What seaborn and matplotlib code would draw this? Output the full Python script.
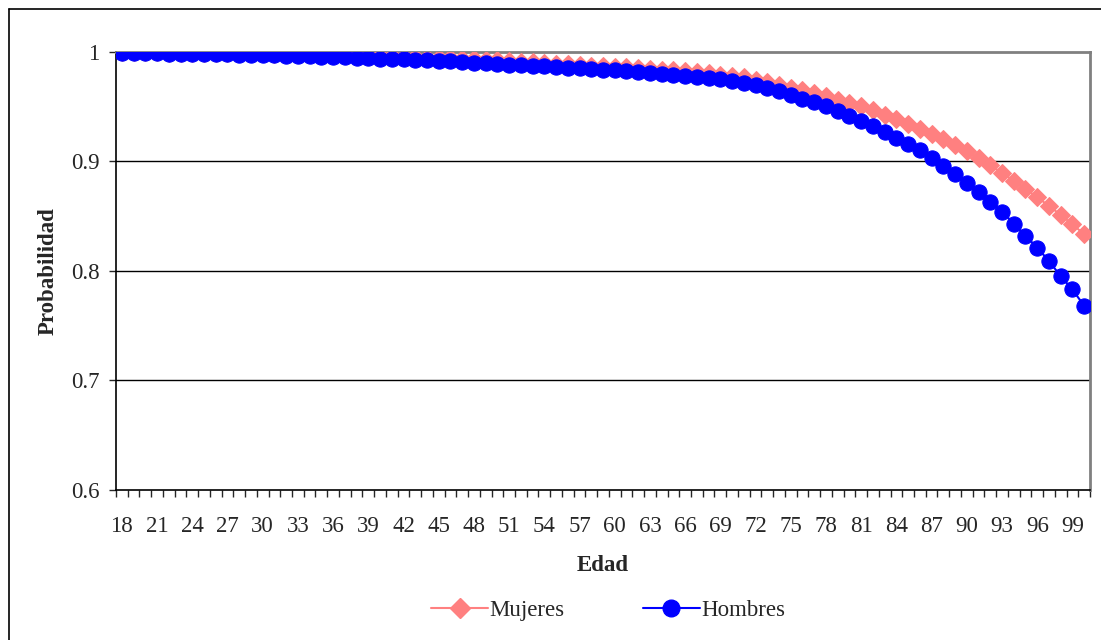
import numpy as np
import pandas as pd
import matplotlib
matplotlib.use("Agg")
import matplotlib.pyplot as plt
from matplotlib.lines import Line2D
from matplotlib.ticker import FuncFormatter
import seaborn as sns

# Probabilidad por edad
edades = list(range(18, 101))

hombres = [
    0.9985, 0.9984, 0.9983, 0.9982, 0.9981, 0.9980, 0.9979, 0.9977, 0.9975, 0.9973,  # 18-27
    0.9971, 0.9969, 0.9967, 0.9965, 0.9962, 0.9959, 0.9956, 0.9953, 0.9950, 0.9947,  # 28-37
    0.9943, 0.9940, 0.9936, 0.9932, 0.9928, 0.9924, 0.9920, 0.9915, 0.9910, 0.9905,  # 38-47
    0.9899, 0.9892, 0.9884, 0.9879, 0.9874, 0.9869, 0.9864, 0.9859, 0.9853, 0.9847,  # 48-57
    0.9841, 0.9835, 0.9828, 0.9821, 0.9813, 0.9805, 0.9796, 0.9787, 0.9777, 0.9767,  # 58-67
    0.9757, 0.9746, 0.9734, 0.9714, 0.9692, 0.9667, 0.9636, 0.9606, 0.9570, 0.9536,  # 68-77
    0.9500, 0.9460, 0.9415, 0.9370, 0.9320, 0.9270, 0.9210, 0.9160, 0.9100, 0.9030,  # 78-87
    0.8960, 0.8880, 0.8800, 0.8720, 0.8630, 0.8540, 0.8430, 0.8320, 0.8210, 0.8090,  # 88-97
    0.7950, 0.7830, 0.7680,                                                          # 98-100
]

mujeres = [
    0.9992, 0.9992, 0.9991, 0.9991, 0.9990, 0.9990, 0.9989, 0.9988, 0.9987, 0.9986,  # 18-27
    0.9985, 0.9984, 0.9983, 0.9981, 0.9979, 0.9977, 0.9975, 0.9973, 0.9971, 0.9968,  # 28-37
    0.9965, 0.9962, 0.9959, 0.9956, 0.9953, 0.9949, 0.9945, 0.9941, 0.9937, 0.9933,  # 38-47
    0.9928, 0.9923, 0.9918, 0.9913, 0.9908, 0.9902, 0.9896, 0.9890, 0.9884, 0.9878,  # 48-57
    0.9871, 0.9866, 0.9862, 0.9856, 0.9849, 0.9842, 0.9835, 0.9827, 0.9819, 0.9810,  # 58-67
    0.9800, 0.9790, 0.9778, 0.9764, 0.9742, 0.9720, 0.9698, 0.9670, 0.9645, 0.9620,  # 68-77
    0.9590, 0.9560, 0.9530, 0.9500, 0.9464, 0.9425, 0.9380, 0.9340, 0.9295, 0.9250,  # 78-87
    0.9200, 0.9145, 0.9090, 0.9028, 0.8962, 0.8893, 0.8822, 0.8748, 0.8670, 0.8592,  # 88-97
    0.8510, 0.8424, 0.8333,                                                          # 98-100
]

y_ticks = [0.6, 0.7, 0.8, 0.9, 1.0]

df = pd.DataFrame({"Edad": edades, "Mujeres": mujeres, "Hombres": hombres})

sns.set_style("white")
plt.rcParams["font.family"] = ["Liberation Serif", "DejaVu Serif"]
plt.rcParams["font.size"] = 16.5

fig = plt.figure(figsize=(11.01, 6.4), dpi=100)
ax = fig.add_axes([116 / 1101, 1 - 490 / 640, (1090 - 116) / 1101, (490 - 51.5) / 640])

rosa = "#FF8080"
azul = "#0000FF"

sns.lineplot(data=df, x="Edad", y="Mujeres", ax=ax, color=rosa, marker="D",
             markersize=9, markeredgecolor=rosa, linewidth=1.5, zorder=3)
sns.lineplot(data=df, x="Edad", y="Hombres", ax=ax, color=azul, marker="o",
             markersize=11, markeredgecolor=azul, linewidth=1.5, zorder=4)

ax.set_xlim(edades[0] - 0.5, edades[-1] + 0.5)
ax.set_ylim(0.6, 1.0)

# grid lines
for v in y_ticks[1:-1]:
    ax.axhline(v, color="black", linewidth=1, zorder=1)

ax.set_yticks(y_ticks)
ax.yaxis.set_major_formatter(FuncFormatter(lambda v, p: "1" if abs(v - 1) < 1e-9 else f"{v:.1f}"))
ax.tick_params(axis="y", direction="out", length=5, width=1, pad=7, labelsize=16.5, left=True)

ax.set_xticks(edades[::3])
ax.set_xticklabels([str(e) for e in edades[::3]])
ax.set_xticks([e - 0.5 for e in edades] + [edades[-1] + 0.5], minor=True)
ax.tick_params(axis="x", which="major", length=0, pad=19, labelsize=16.5)
ax.tick_params(axis="x", which="minor", direction="out", length=5, width=1, bottom=True)

for s in ["left", "bottom"]:
    ax.spines[s].set_color("black")
    ax.spines[s].set_linewidth(1.2)
for s in ["top", "right"]:
    ax.spines[s].set_color("#808080")
    ax.spines[s].set_linewidth(2)

ax.set_xlabel("Edad", fontsize=16.5, fontweight="bold", labelpad=13)
ax.set_ylabel("Probabilidad", fontsize=16.5, fontweight="bold", labelpad=9)

handles = [
    Line2D([], [], color=rosa, marker="D", markersize=10, linewidth=1.5),
    Line2D([], [], color=azul, marker="o", markersize=12, linewidth=1.5),
]
fig.legend(handles, ["Mujeres", "Hombres"], loc="center", ncol=2,
           bbox_to_anchor=(608 / 1101, 1 - 610 / 640), frameon=False,
           handlelength=2.5, handletextpad=0.05, columnspacing=3.4, fontsize=16.5)

# outer chart frame
fig.add_artist(Line2D([9 / 1101, 1.0], [1 - 9 / 640, 1 - 9 / 640], color="black", linewidth=1.2))
fig.add_artist(Line2D([9 / 1101, 9 / 1101], [1 - 9 / 640, 0.0], color="black", linewidth=1.2))

fig.savefig("out.png", dpi=100)
